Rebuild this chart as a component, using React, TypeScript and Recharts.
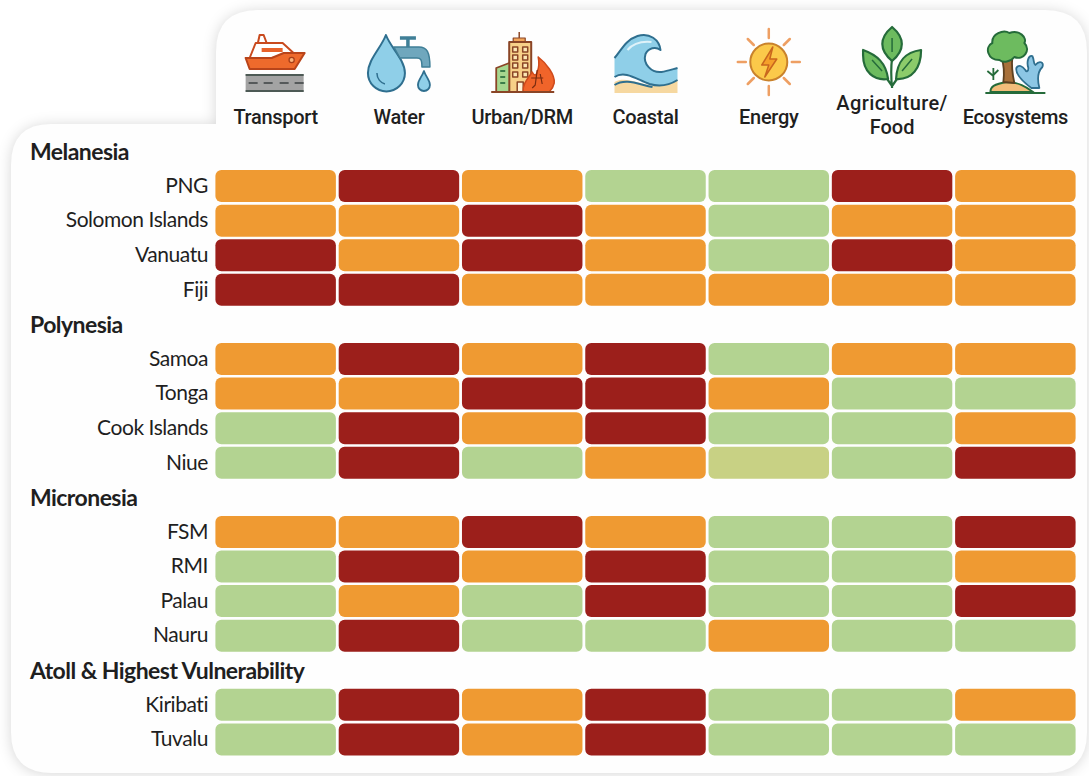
import React from 'react';
import { BarChart, Bar, XAxis, YAxis, Cell, Rectangle } from 'recharts';

const WIDTH = 1089;
const HEIGHT = 776;

const sectors = ['Transport', 'Water', 'Urban/DRM', 'Coastal', 'Energy', 'Agriculture/Food', 'Ecosystems'];
const groups = ['Melanesia', 'Polynesia', 'Micronesia', 'Atoll & Highest Vulnerability'];
const rowNames = [
  'Melanesia', 'PNG', 'Solomon Islands', 'Vanuatu', 'Fiji',
  'Polynesia', 'Samoa', 'Tonga', 'Cook Islands', 'Niue',
  'Micronesia', 'FSM', 'RMI', 'Palau', 'Nauru',
  'Atoll & Highest Vulnerability', 'Kiribati', 'Tuvalu',
];

// L low, Y low-moderate, M moderate, H high; null on the group heading rows
const transport = [null, 'M', 'M', 'H', 'H', null, 'M', 'M', 'L', 'L', null, 'M', 'L', 'L', 'L', null, 'L', 'L'];
const water = [null, 'H', 'M', 'M', 'H', null, 'H', 'M', 'H', 'H', null, 'M', 'H', 'M', 'H', null, 'H', 'H'];
const urban = [null, 'M', 'H', 'H', 'M', null, 'M', 'H', 'M', 'L', null, 'H', 'M', 'L', 'L', null, 'M', 'M'];
const coastal = [null, 'L', 'M', 'M', 'M', null, 'H', 'H', 'H', 'M', null, 'M', 'H', 'H', 'L', null, 'H', 'H'];
const energy = [null, 'L', 'L', 'L', 'M', null, 'L', 'M', 'L', 'Y', null, 'L', 'L', 'L', 'M', null, 'L', 'L'];
const agriculture = [null, 'H', 'M', 'H', 'M', null, 'M', 'L', 'L', 'L', null, 'L', 'L', 'L', 'L', null, 'L', 'L'];
const ecosystems = [null, 'M', 'M', 'M', 'M', null, 'M', 'L', 'M', 'H', null, 'H', 'M', 'H', 'L', null, 'M', 'L'];

const levels = [transport, water, urban, coastal, energy, agriculture, ecosystems];
const colors: Record<string, string> = { L: '#b3d391', Y: '#c8d184', M: '#ef9a32', H: '#9c1f1b' };

// every cell is one unit wide, so the stack lays the columns out
const tableData = rowNames.map((name, r) => {
  const row: any = { name };
  sectors.forEach((s, c) => {
    row[s] = levels[c][r] ? 1 : null;
  });
  return row;
});

const columnTicks = sectors.map((_, i) => i + 0.5);

const ink = '#1f1f1f';
const blue = '#8fcfe8';
const blueLine = '#2f6f8f';
const greenFill = '#6dbb5f';
const greenLine = '#256b3a';

function ShipIcon() {
  return (
    <g strokeLinejoin="round">
      <path d="M-18 44 L-16 35 H-12 L-9 43 Z" fill="#fff" stroke="#c94a1e" strokeWidth={2} />
      <path d="M-26 58 L-20 43 H7 L19 54 L-4 58 Z" fill="#fff" stroke="#c94a1e" strokeWidth={2} />
      <path d="M-14 50 H7" stroke="#e8622a" strokeWidth={4} />
      <path d="M-30 58 H-4 L8 53 H29 L19 69 H-26 Z" fill="#ee6a2c" stroke="#b9441a" strokeWidth={2} />
      <circle cx={16} cy={60} r={2.6} fill="#f9b27a" stroke="#a83e18" strokeWidth={1.3} />
      <rect x={-30} y={74} width={58} height={18} fill="#a3a3a3" />
      <path d="M-30 75 H28 M-30 91 H28" stroke="#4d5a55" strokeWidth={2} />
      <path d="M-27 83 H-18 M-12 83 H-3 M4 83 H13 M19 83 H28" stroke="#55595a" strokeWidth={2} />
    </g>
  );
}

function WaterIcon() {
  return (
    <g strokeLinejoin="round">
      <path d="M-13 35 C-18 48 -31 60 -31 73 A18.5 18.5 0 0 0 6 73 C6 60 -8 48 -13 35 Z" fill={blue} stroke={blueLine} strokeWidth={2} />
      <path d="M-22 73 C-22 79 -18 83 -14 84" fill="none" stroke={blueLine} strokeWidth={1.5} />
      <path d="M-5 47 H20 C28 47 31 52 31 67 H23 C23 60 22 58 18 58 H1 Z" fill="#6fa7bd" stroke="#3f7f97" strokeWidth={1.5} />
      <path d="M9 47 V39 M1 38 H17" stroke="#3f7f97" strokeWidth={3.5} />
      <path d="M25 71 C23 77 19 80 19 85 A6 6 0 0 0 31 85 C31 80 27 77 25 71 Z" fill={blue} stroke={blueLine} strokeWidth={1.8} />
    </g>
  );
}

function UrbanIcon() {
  const windows = [47, 55, 63, 72];
  const line = '#8a4526';
  return (
    <g strokeLinejoin="round">
      <path d="M-3 32 V38" stroke={line} strokeWidth={1.5} />
      <rect x={-9} y={38} width={12} height={4} fill="#f2a65a" stroke={line} strokeWidth={1.2} />
      <rect x={-13} y={42} width={22} height={50} fill="#f7d088" stroke={line} strokeWidth={2} />
      {windows.map((y) => (
        <g key={y}>
          <rect x={-9.5} y={y} width={5} height={5} fill="#fbe7b5" stroke={line} strokeWidth={1.5} />
          <rect x={0.5} y={y} width={5} height={5} fill="#fbe7b5" stroke={line} strokeWidth={1.5} />
        </g>
      ))}
      <rect x={-5} y={82} width={6} height={10} fill="#fff3d8" stroke={line} strokeWidth={1.5} />
      <path d="M-26 68 L-13 63 V92 H-26 Z" fill="#a6d68f" stroke={line} strokeWidth={1.8} />
      <path d="M-22 71 H-17 M-22 77 H-17 M-22 83 H-17" stroke="#3c7d4a" strokeWidth={2} />
      <path d="M1 92 C0 84 6 78 10 72 C12 76 14 76 15 72 C17 67 17 62 16 57 C24 63 33 75 32 83 C31 88 29 90 27 92 Z" fill="#f0642a" stroke="#cf4a1c" strokeWidth={1.5} />
      <path d="M15 70 L13 85 L10 88 M9 78 H21 M18 74 L20 84" stroke="#7a2c10" strokeWidth={1.2} fill="none" />
      <path d="M-31 92 H32" stroke={line} strokeWidth={2} />
    </g>
  );
}

function CoastalIcon() {
  return (
    <g strokeLinejoin="round">
      <path d="M-31 82 C-20 76 -8 84 8 86 C18 86 26 82 32 79 V93 H-31 Z" fill="#f6d8a0" />
      <path d="M-31 58 C-24 50 -20 40 -8 36 C4 32 14 40 15 50 C10 46 3 48 0 54 C-3 64 6 73 16 72 C22 71 28 69 32 68 V80 C24 85 14 87 4 84 C-8 80 -20 70 -31 77 Z" fill={blue} />
      <path d="M-31 58 C-24 50 -20 40 -8 36 C4 32 14 40 15 50 C10 46 3 48 0 54 C-3 64 6 73 16 72 C22 71 28 69 32 68" fill="none" stroke={blueLine} strokeWidth={2} />
      <path d="M-18 50 C-12 43 -4 41 6 42" fill="none" stroke="#dff2f9" strokeWidth={2} />
      <path d="M-31 77 C-20 70 -8 80 4 84 C14 87 24 85 32 80" fill="none" stroke={blueLine} strokeWidth={2} />
      <path d="M-31 85 C-20 78 -8 84 7 87" fill="none" stroke={blueLine} strokeWidth={2} />
    </g>
  );
}

function EnergyIcon() {
  const rays = ['M0 29 V38', 'M0 86 V95', 'M-31 62 H-23', 'M23 62 H31', 'M-21 39 L-15 45', 'M21 39 L15 45', 'M-21 84 L-15 78', 'M21 84 L15 78'];
  return (
    <g>
      {rays.map((d) => (
        <path key={d} d={d} stroke="#ee9f63" strokeWidth={2.5} strokeLinecap="round" />
      ))}
      <circle cx={0} cy={62} r={18.5} fill="#fbc94a" stroke="#c9822c" strokeWidth={2} />
      <path d="M4 47 L-7 65 H0 L-4 77 L8 59 H1 Z" fill="#f5a02a" stroke="#c9661e" strokeWidth={1.5} strokeLinejoin="round" />
    </g>
  );
}

function PlantIcon() {
  return (
    <g strokeLinejoin="round" stroke={greenLine} strokeWidth={2.2}>
      <path d="M0 88 C-1 78 -1 66 0 58 M0 86 L-7 76 M0 86 L7 76" fill="none" />
      <path d="M0 27 C-13 38 -13 50 0 61 C13 50 13 38 0 27 Z" fill={greenFill} />
      <path d="M-29 55 C-29 72 -18 81 -4 79 C-6 63 -15 55 -29 50 Z" fill={greenFill} />
      <path d="M29 50 C14 52 5 60 4 79 C20 80 29 68 29 50 Z" fill="#8ccb6a" />
      <path d="M0 38 V52 M-20 60 L-10 71 M20 59 L10 71" fill="none" strokeWidth={1.5} />
    </g>
  );
}

function EcosystemIcon() {
  return (
    <g strokeLinejoin="round">
      <path d="M-25 92 C-25 87 -22 84 -8 82 C4 82 12 88 18 92 Z" fill="#f2bd7a" stroke={greenLine} strokeWidth={1.8} />
      <path d="M-12 82 C-11 74 -11 66 -14 57 H-3 C-4 66 -3 74 -1 83 Z" fill="#a8703a" stroke="#5d4020" strokeWidth={1.8} />
      <path d="M-16 60 C-28 60 -31 47 -23 43 C-24 34 -12 29 -6 33 C4 29 12 38 9 43 C16 50 8 61 -1 57 C-5 62 -12 63 -16 60 Z" fill="#6dbb5f" stroke={greenLine} strokeWidth={2} />
      <path d="M16 88 C8 82 0 74 1 68 C3 64 7 66 10 70 C11 72 13 72 13 68 C11 62 13 55 17 56 C19 60 18 64 20 65 C24 60 29 62 27 67 C22 72 22 80 24 88 Z" fill="#8cc6e4" stroke={blueLine} strokeWidth={1.8} />
      <path d="M-22 80 V68 M-22 76 L-28 71 M-22 75 L-17 70" stroke={greenLine} strokeWidth={1.8} fill="none" />
      <path d="M-30 93 H30" stroke={greenLine} strokeWidth={2} />
    </g>
  );
}

const icons = [ShipIcon, WaterIcon, UrbanIcon, CoastalIcon, EnergyIcon, PlantIcon, EcosystemIcon];

function SectorTick({ x, payload }: any) {
  const i = Math.floor(payload.value);
  const Icon = icons[i];
  const textProps = {
    textAnchor: 'middle' as const,
    fontFamily: 'Roboto',
    fontWeight: 500,
    fontSize: 20,
    fill: ink,
  };
  const label = sectors[i];
  const cut = label.indexOf('/Food');
  return (
    <g>
      <g transform={`translate(${x}, 0)`}>
        <Icon />
      </g>
      {cut > 0 ? (
        <>
          <text x={x} y={110} letterSpacing={0.4} {...textProps}>{label.slice(0, cut + 1)}</text>
          <text x={x} y={134} {...textProps}>{label.slice(cut + 1)}</text>
        </>
      ) : (
        <text x={x} y={124} letterSpacing={-0.3} {...textProps}>{label}</text>
      )}
    </g>
  );
}

function RowTick({ y, payload }: any) {
  if (groups.includes(payload.value)) {
    return (
      <text x={30} y={y + 9} fontFamily="Lato" fontWeight={700} fontSize={23} letterSpacing={-0.55} fill={ink}>
        {payload.value}
      </text>
    );
  }
  return (
    <text x={208} y={y + 7} textAnchor="end" fontFamily="Lato" fontSize={21} letterSpacing={-0.45} fill={ink}>
      {payload.value}
    </text>
  );
}

function CellShape(props: any) {
  const { x, y, width, height, fill } = props;
  if (!width || !height) return null;
  return <Rectangle x={x + 1.4} y={y + 1.5} width={width - 2.8} height={height - 3} radius={6} fill={fill} />;
}

export default function App() {
  return (
    <div style={{ position: 'absolute', left: 0, top: 0, width: WIDTH, height: HEIGHT, background: '#fff', overflow: 'hidden' }}>
      <svg width={WIDTH} height={HEIGHT} style={{ position: 'absolute', left: 0, top: 0 }}>
        <path
          d="M51 124 H216 V52 Q216 10 258 10 H1045 Q1087 10 1087 52 V732 Q1087 773 1046 773 H52 Q11 773 11 732 V165 Q11 124 51 124 Z"
          fill="#fefefe"
          style={{ filter: 'drop-shadow(0 1px 7px rgba(0,0,0,0.16))' }}
        />
      </svg>
      <div style={{ position: 'absolute', left: 0, top: 0 }}>
        <BarChart
          width={WIDTH}
          height={HEIGHT}
          data={tableData}
          layout="vertical"
          barCategoryGap={0}
          margin={{ top: 0, right: 12, bottom: 19.5, left: 0 }}
        >
          <XAxis
            type="number"
            orientation="top"
            domain={[0, 7]}
            ticks={columnTicks}
            interval={0}
            height={134}
            tick={<SectorTick />}
            tickLine={false}
            axisLine={false}
          />
          <YAxis
            type="category"
            dataKey="name"
            width={214}
            interval={0}
            tick={<RowTick />}
            tickLine={false}
            axisLine={false}
          />
          {sectors.map((s, c) => (
            <Bar key={s} dataKey={s} stackId="cells" isAnimationActive={false} shape={<CellShape />}>
              {rowNames.map((name, r) => (
                <Cell key={name} fill={colors[levels[c][r] ?? 'L']} />
              ))}
            </Bar>
          ))}
        </BarChart>
      </div>
    </div>
  );
}
